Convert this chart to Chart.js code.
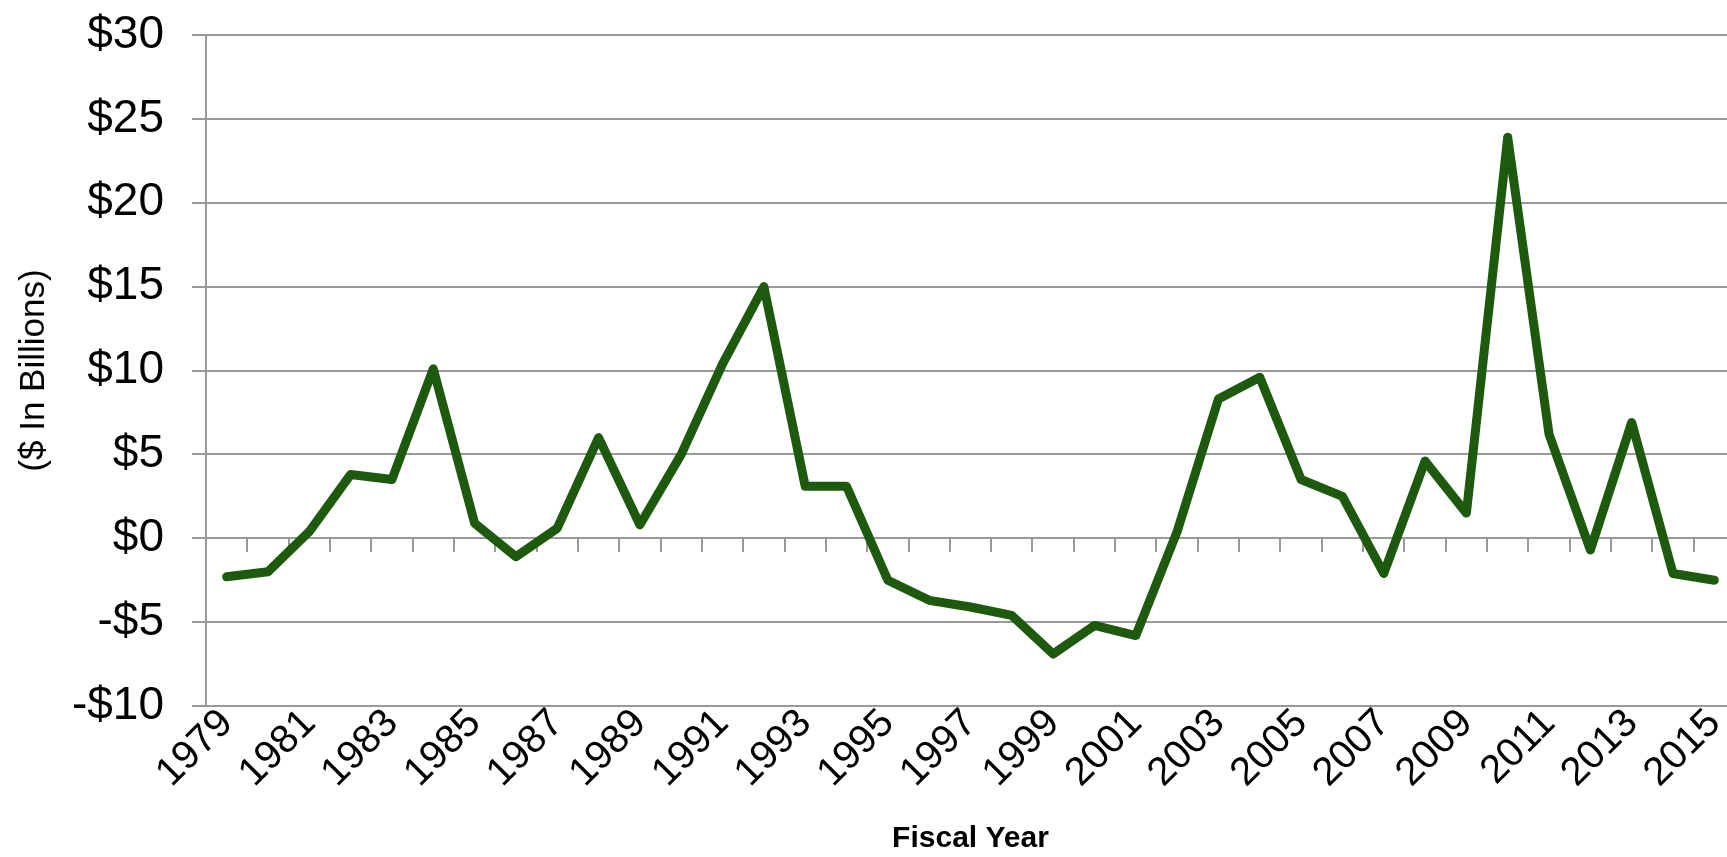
<!DOCTYPE html>
<html>
<head>
<meta charset="utf-8">
<script src="https://cdn.jsdelivr.net/npm/chart.js@4/dist/chart.umd.min.js"></script>
<style>
  html, body { margin: 0; padding: 0; background: #fff; overflow: hidden; }
  #wrap { width: 1745px; height: 857px; }
</style>
</head>
<body>
<div id="wrap"><canvas id="lineChart" width="1745" height="857"></canvas></div>
<script>
// fiscal years and values ($ in billions)
var years = [
  '1979', '1980', '1981', '1982', '1983', '1984', '1985', '1986', '1987', '1988',
  '1989', '1990', '1991', '1992', '1993', '1994', '1995', '1996', '1997', '1998',
  '1999', '2000', '2001', '2002', '2003', '2004', '2005', '2006', '2007', '2008',
  '2009', '2010', '2011', '2012', '2013', '2014', '2015'
];
var values = [
  -2.3, -2.0, 0.4, 3.8, 3.5, 10.1, 0.9, -1.1, 0.6, 6.0,
  0.8, 5.0, 10.4, 15.0, 3.1, 3.1, -2.5, -3.7, -4.1, -4.6,
  -6.9, -5.2, -5.8, 0.4, 8.3, 9.6, 3.5, 2.5, -2.1, 4.6,
  1.5, 23.9, 6.2, -0.7, 6.9, -2.1, -2.5
];
var yMin = -10;
var yMax = 30;
var yStep = 5;

var gridColor = '#999999';

function money(v) {
  return v < 0 ? '-$' + Math.abs(v) : '$' + v;
}

var ctx = document.getElementById('lineChart');
var myChart = new Chart(ctx, {
  type: 'line',
  data: {
    labels: years,
    datasets: [{
      data: values,
      borderColor: '#1d5a0d',
      backgroundColor: '#1d5a0d',
      borderWidth: 9,
      borderJoinStyle: 'round',
      borderCapStyle: 'round',
      tension: 0,
      pointRadius: 0,
      fill: false
    }]
  },
  options: {
    responsive: false,
    animation: false,
    layout: { padding: { top: 35, right: 10, bottom: 0, left: 0 } },
    plugins: {
      legend: { display: false },
      title: { display: false },
      tooltip: { enabled: false }
    },
    scales: {
      x: {
        type: 'category',
        offset: true,
        grid: { display: false },
        border: { display: false },
        ticks: {
          autoSkip: false,
          minRotation: 45,
          maxRotation: 45,
          padding: -14,
          color: '#000',
          font: { family: "'Liberation Sans', Arial, sans-serif", size: 40 },
          callback: function (val, i) { return i % 2 === 0 ? years[i] : ''; }
        },
        title: {
          display: true,
          text: 'Fiscal Year',
          color: '#000',
          font: { family: "'Liberation Sans', Arial, sans-serif", size: 30, weight: 'bold' },
          padding: { top: 0, bottom: 0 }
        },
        afterFit: function (scale) { scale.height = 151; }
      },
      // second category axis sitting on the $0 line, only for its tick marks
      x2: {
        type: 'category',
        axis: 'x',
        position: { y: 0 },
        offset: true,
        grid: {
          offset: true,
          drawOnChartArea: false,
          drawTicks: true,
          tickLength: 13,
          color: gridColor,
          lineWidth: 2
        },
        border: { display: true, color: gridColor, width: 2 },
        ticks: { display: false }
      },
      y: {
        min: yMin,
        max: yMax,
        grid: { color: gridColor, lineWidth: 2, tickLength: 14 },
        border: { display: true, color: gridColor, width: 2 },
        ticks: {
          stepSize: yStep,
          padding: 28,
          color: '#000',
          font: { family: "'Liberation Sans', Arial, sans-serif", size: 46 },
          callback: function (v) { return money(v); }
        },
        title: {
          display: true,
          text: '($ In Billions)',
          color: '#000',
          font: { family: "'Liberation Sans', Arial, sans-serif", size: 35 },
          padding: { top: 13, bottom: 0 }
        },
        afterFit: function (scale) {
          scale.width = 206;
          scale.paddingTop = 0;
          scale.paddingBottom = 0;
        }
      }
    }
  }
});
</script>
</body>
</html>
